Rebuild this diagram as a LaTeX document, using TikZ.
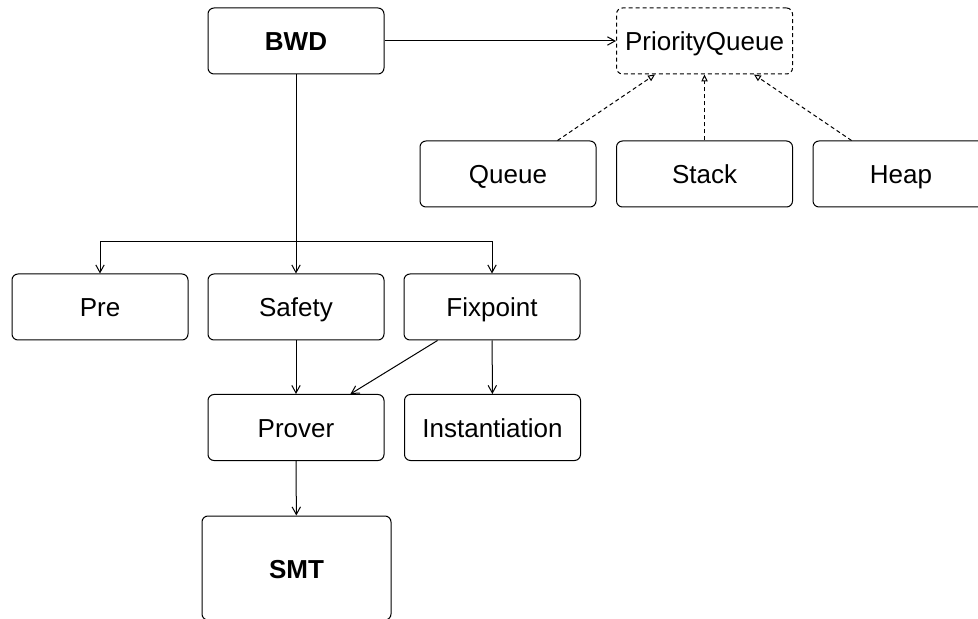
\documentclass[tikz,border=0pt]{standalone}
\usepackage{fontspec}
\setmainfont{Liberation Sans}
\usetikzlibrary{arrows.meta}
\begin{document}
\begin{tikzpicture}[x=0.5pt,y=-0.5pt,
    box/.style={draw, line width=0.5pt, rounded corners=3pt, minimum width=88pt, minimum height=33pt, text height=12pt, text depth=2pt, font=\fontsize{13}{15}\selectfont},
    dbox/.style={box, dash pattern=on 2pt off 1.5pt},
    arr/.style={line width=0.5pt, -{Straight Barb[length=3.8pt,width=4.2pt]}},
    darr/.style={line width=0.5pt, dash pattern=on 2pt off 1.5pt, -{Triangle[open,length=3.5pt,width=3.2pt]}}]
    \useasboundingbox (0,0) rectangle (978,619);
    \node[box, font=\fontsize{13}{15}\selectfont\bfseries] (bwd) at (296,41) {BWD};
    \node[dbox] (pq) at (704.5,41) {PriorityQueue};
    \node[box] (queue) at (508,174) {Queue};
    \node[box] (stack) at (704.5,174) {Stack};
    \node[box] (heap) at (901,174) {Heap};
    \node[box] (pre) at (100,307) {Pre};
    \node[box] (safety) at (296,307) {Safety};
    \node[box] (fix) at (492,307) {Fixpoint};
    \node[box] (prover) at (296,427.5) {Prover};
    \node[box] (inst) at (492.5,427.5) {Instantiation};
    \node[box, minimum width=94.5pt, minimum height=52pt, font=\fontsize{13}{15}\selectfont\bfseries] (smt) at (296.5,568) {SMT};
    \coordinate (split) at (296,242);
    \draw[arr] (bwd) -- (pq);
    \draw[darr] (queue) -- (pq);
    \draw[darr] (stack) -- (pq);
    \draw[darr] (heap) -- (pq);
    \draw[arr] (bwd) -- (safety);
    \draw[arr] (split) -| (pre);
    \draw[arr] (split) -| (fix);
    \draw[arr] (safety) -- (prover);
    \draw[arr] (fix) -- (prover);
    \draw[arr] (fix) -- (inst);
    \draw[arr] (prover) -- (smt);
\end{tikzpicture}
\end{document}
